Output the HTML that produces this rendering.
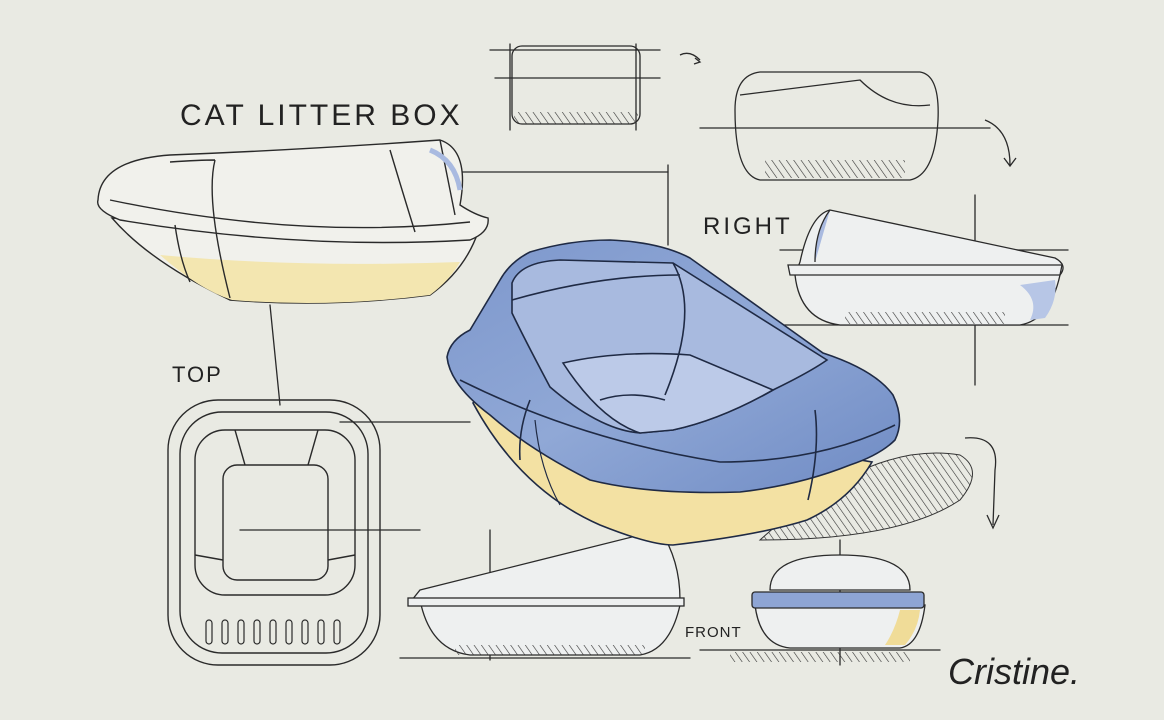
<!DOCTYPE html>
<html><head><meta charset="utf-8"><style>
html,body{margin:0;padding:0;background:#e9eae3;}
svg{display:block}
text{font-family:"Liberation Sans",sans-serif;fill:#222}
</style></head><body>
<svg width="1164" height="720" viewBox="0 0 1164 720" xmlns="http://www.w3.org/2000/svg">
<defs>
<linearGradient id="bl" x1="0" y1="0" x2="1" y2="1">
<stop offset="0" stop-color="#7d97cc"/><stop offset="0.5" stop-color="#90a8d6"/><stop offset="1" stop-color="#6f8bc4"/></linearGradient>
<pattern id="hat" width="6" height="6" patternUnits="userSpaceOnUse" patternTransform="rotate(-35)">
<line x1="0" y1="0" x2="0" y2="6" stroke="#333" stroke-width="1.2"/></pattern>
</defs>
<rect width="1164" height="720" fill="#e9eae3"/>
<g fill="none" stroke="#2a2a2a" stroke-width="1.3" stroke-linecap="round">
<line x1="270" y1="305" x2="280" y2="405"/>
<line x1="440" y1="172" x2="668" y2="172"/>
<line x1="668" y1="165" x2="668" y2="245"/>
<line x1="340" y1="422" x2="470" y2="422"/>
<line x1="240" y1="530" x2="420" y2="530"/>
<line x1="490" y1="530" x2="490" y2="660"/>
<line x1="400" y1="658" x2="690" y2="658"/>
<line x1="975" y1="195" x2="975" y2="385"/>
<line x1="780" y1="250" x2="1068" y2="250"/>
<line x1="780" y1="325" x2="1068" y2="325"/>
<line x1="700" y1="128" x2="990" y2="128"/>
<line x1="490" y1="50" x2="660" y2="50"/>
<line x1="495" y1="78" x2="660" y2="78"/>
<line x1="510" y1="44" x2="510" y2="130"/>
<line x1="636" y1="44" x2="636" y2="130"/>
<line x1="700" y1="650" x2="940" y2="650"/>
<line x1="840" y1="540" x2="840" y2="665"/>
</g>
<path d="M760 540 Q870 440 960 455 Q985 470 960 500 Q900 540 760 540Z" fill="url(#hat)" stroke="#333" stroke-width="1"/>
<!-- left box -->
<g stroke="#2a2a2a" stroke-width="1.4">
<path d="M112 218 Q150 262 230 300 Q330 308 430 295 Q465 270 478 232 Z" fill="#f1f1ec"/>
<path d="M160 255 Q200 290 232 300 Q330 308 430 295 Q450 280 460 262 Q300 268 160 255Z" fill="#f3e6b0" stroke="none"/>
<path d="M98 200 Q100 160 170 155 Q300 150 440 140 Q470 150 460 205 Q475 215 488 218 Q490 232 470 240 Q300 250 120 220 Q95 210 98 200Z" fill="#f1f1ec"/>
<path d="M110 200 Q300 240 470 222" fill="none"/>
<path d="M170 162 Q200 160 215 160 M175 225 Q180 260 190 282 M215 160 Q205 200 230 298 M390 150 Q405 200 415 232 M440 140 Q450 190 455 215" fill="none"/>
<path d="M430 150 Q455 160 460 190" stroke="#a9bae0" stroke-width="5" fill="none"/>
</g>
<!-- top view -->
<g fill="none" stroke="#2a2a2a" stroke-width="1.4">
<rect x="168" y="400" width="212" height="265" rx="50"/>
<rect x="180" y="412" width="188" height="241" rx="42"/>
<rect x="195" y="430" width="160" height="165" rx="30"/>
<rect x="223" y="465" width="105" height="115" rx="14"/>
<path d="M235 430 L245 465 M318 430 L308 465 M195 555 L223 560 M355 555 L328 560"/>
</g>
<g stroke="#2a2a2a" stroke-width="1.2" fill="none">
<rect x="206" y="620" width="6" height="24" rx="3"/><rect x="222" y="620" width="6" height="24" rx="3"/><rect x="238" y="620" width="6" height="24" rx="3"/><rect x="254" y="620" width="6" height="24" rx="3"/><rect x="270" y="620" width="6" height="24" rx="3"/><rect x="286" y="620" width="6" height="24" rx="3"/><rect x="302" y="620" width="6" height="24" rx="3"/><rect x="318" y="620" width="6" height="24" rx="3"/><rect x="334" y="620" width="6" height="24" rx="3"/>
</g>
<g fill="none" stroke="#2a2a2a" stroke-width="1.3">
<rect x="512" y="46" width="128" height="78" rx="10"/>
<rect x="514" y="112" width="124" height="12" fill="url(#hat)" stroke="none"/>
<path d="M735 110 Q735 75 760 72 L920 72 Q940 75 938 120 Q935 175 910 180 L760 180 Q735 175 735 110Z"/>
<path d="M740 95 L860 80 Q890 110 930 105"/>
<rect x="765" y="160" width="140" height="18" fill="url(#hat)" stroke="none"/>
<path d="M680 55 Q690 50 700 60 M695 58 L700 62 L694 64"/>
<path d="M985 120 Q1010 130 1010 165 M1004 158 L1010 166 L1016 158"/>
<path d="M965 438 Q1000 435 995 470 L993 525 M987 515 L993 528 L999 515"/>
</g>
<!-- right view -->
<g stroke="#2a2a2a" stroke-width="1.3">
<path d="M800 262 Q810 215 830 210 Q900 225 1055 258 Q1068 265 1060 275 Q1050 320 1020 325 L840 325 Q800 320 795 275Z" fill="#eef0f0"/>
<path d="M830 210 Q815 230 815 262" fill="#a9bae0" stroke="#2a2a2a"/>
<path d="M1020 285 Q1040 300 1030 320 L1045 318 Q1058 300 1055 280Z" fill="#b7c6e6" stroke="none"/>
<path d="M788 265 L1062 265 L1060 275 L790 275Z" fill="#eef0f0"/>
<rect x="845" y="312" width="160" height="12" fill="url(#hat)" stroke="none"/>
</g>
<!-- front bottom -->
<g stroke="#2a2a2a" stroke-width="1.3">
<path d="M420 600 Q430 650 470 655 L640 655 Q670 650 680 605Z" fill="#eef0f0"/>
<path d="M420 590 Q480 575 540 560 L660 530 Q680 560 680 600 L412 600Z" fill="#eef0f0"/>
<rect x="408" y="598" width="276" height="8" fill="#eef0f0"/>
<rect x="455" y="645" width="190" height="10" fill="url(#hat)" stroke="none"/>
</g>
<g stroke="#2a2a2a" stroke-width="1.3">
<path d="M755 605 Q760 645 790 648 L900 648 Q920 645 925 605Z" fill="#eef0f0"/>
<path d="M770 590 Q770 555 840 555 Q910 555 910 590Z" fill="#eef0f0"/>
<rect x="752" y="592" width="172" height="16" rx="3" fill="#8ea5d4"/>
<path d="M900 610 Q895 630 885 645 L905 645 Q918 630 920 610Z" fill="#f0dc98" stroke="none"/>
<rect x="730" y="652" width="180" height="10" fill="url(#hat)" stroke="none"/>
</g>
<!-- big blue tub -->
<g stroke="#1f2a44" stroke-width="1.6">
<path d="M473 403 Q520 490 600 525 Q650 545 673 545 Q760 535 807 520 Q850 500 872 462 L480 395Z" fill="#f3e1a3"/>
<path d="M447 357 Q450 340 470 330 L500 280 Q510 262 530 252 Q570 240 610 240 Q660 242 690 258 L823 353 Q875 370 893 395 Q905 420 895 440 Q880 455 850 465 Q800 485 740 492 Q650 495 590 480 Q530 450 490 415 Q450 385 447 357Z" fill="url(#bl)"/>
<path d="M512 283 Q520 262 560 260 L673 263 L827 360 Q810 372 773 390 Q720 420 673 430 L640 433 Q600 430 550 387 Q525 340 512 313Z" fill="#a8badf"/>
<path d="M563 363 Q620 350 690 355 L773 390 Q720 420 673 430 L640 433 Q600 420 563 363Z" fill="#bccae8"/>
<path d="M600 400 Q630 390 665 400" fill="none"/>
<path d="M512 300 Q600 275 680 275 M673 263 Q700 310 665 395" fill="none"/>
<path d="M460 380 Q580 440 720 462 Q820 462 895 425" fill="none"/>
<path d="M530 400 Q518 430 520 460 M815 410 Q820 450 808 500" fill="none"/>
<path d="M535 420 Q540 470 560 505" fill="none" stroke-width="1.2"/>
</g>
<text x="180" y="125" font-size="30" letter-spacing="3">CAT LITTER BOX</text>
<text x="172" y="382" font-size="22" letter-spacing="2">TOP</text>
<text x="703" y="234" font-size="24" letter-spacing="3">RIGHT</text>
<text x="685" y="637" font-size="15" letter-spacing="1">FRONT</text>
<text x="948" y="684" font-size="36" font-style="italic" font-family="'Liberation Serif',serif">Cristine.</text>
</svg>
</body></html>
